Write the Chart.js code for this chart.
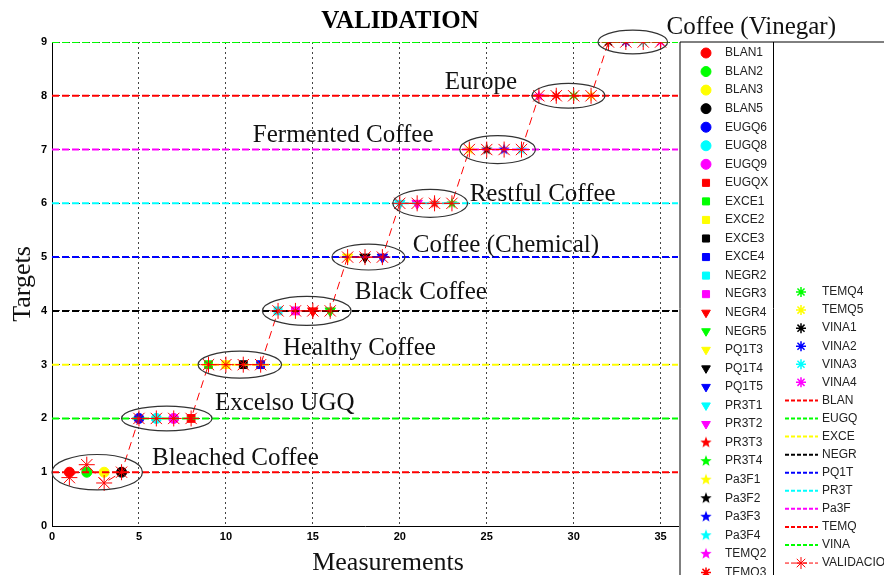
<!DOCTYPE html>
<html>
<head>
<meta charset="utf-8">
<script src="https://cdn.jsdelivr.net/npm/chart.js@4.4.1/dist/chart.umd.min.js"></script>
<style>
  html, body { margin: 0; padding: 0; background: #fff; }
</style>
</head>
<body>
<canvas id="myChart" width="884" height="575"></canvas>
<script>
// sample names, one point per measurement (x = 1..35)
const samples = [
  "BLAN1", "BLAN2", "BLAN3", "BLAN5",
  "EUGQ6", "EUGQ8", "EUGQ9", "EUGQX",
  "EXCE1", "EXCE2", "EXCE3", "EXCE4",
  "NEGR2", "NEGR3", "NEGR4", "NEGR5",
  "PQ1T3", "PQ1T4", "PQ1T5",
  "PR3T1", "PR3T2", "PR3T3", "PR3T4",
  "Pa3F1", "Pa3F2", "Pa3F3", "Pa3F4",
  "TEMQ2", "TEMQ3", "TEMQ4", "TEMQ5",
  "VINA1", "VINA2", "VINA3", "VINA4",
];
const targets = [1, 1, 1, 1, 2, 2, 2, 2, 3, 3, 3, 3, 4, 4, 4, 4, 5, 5, 5,
  6, 6, 6, 6, 7, 7, 7, 7, 8, 8, 8, 8, 9, 9, 9, 9];
const validation = [0.9, 1.14, 0.8, 1.0, 2, 2, 2, 2, 3, 3, 3, 3, 4, 4, 4, 4, 5, 5, 5,
  6, 6, 6, 6, 7, 7, 7, 7, 8, 8, 8, 8, 9, 9, 9, 9];

// class reference lines
const classes = ["BLAN", "EUGQ", "EXCE", "NEGR", "PQ1T", "PR3T", "Pa3F", "TEMQ", "VINA"];
const classTargets = [1, 2, 3, 4, 5, 6, 7, 8, 9];
const classLabels = ["Bleached Coffee", "Excelso UGQ", "Healthy Coffee", "Black Coffee",
  "Coffee (Chemical)", "Restful Coffee", "Fermented Coffee", "Europe", "Coffee (Vinegar)"];

const xTicks = [0, 5, 10, 15, 20, 25, 30, 35];
const yTicks = [0, 1, 2, 3, 4, 5, 6, 7, 8, 9];

// matlab-ish colour / marker cycle
const palette = ["#ff0000", "#00ff00", "#ffff00", "#000000", "#0000ff", "#00ffff", "#ff00ff"];
const lineColors = ["#ff0000", "#00ff00", "#ffff00", "#000000", "#0000ff", "#00ffff", "#ff00ff", "#ff0000", "#00ff00"];

// ellipses round each cluster: [from x, to x, half height] in axis units
const ellipses = [
  [0.0, 5.2, 0.33], [4.0, 9.2, 0.23], [8.4, 13.2, 0.25], [12.1, 17.2, 0.27],
  [16.1, 20.3, 0.24], [19.6, 23.9, 0.26], [23.45, 27.8, 0.26], [27.6, 31.8, 0.23],
  [31.4, 35.4, 0.22],
];
// where each label text starts (axis units)
const labelPos = [
  [5.75, 1.26], [9.37, 2.27], [13.28, 3.31], [17.41, 4.35], [20.75, 5.22],
  [24.02, 6.17], [11.55, 7.27], [22.59, 8.25], [35.34, 9.28],
];

function pentagram(color, r) {
  const c = document.createElement("canvas");
  c.width = c.height = Math.ceil(r * 2 + 2);
  const g = c.getContext("2d");
  const m = c.width / 2;
  g.beginPath();
  for (let k = 0; k < 10; k++) {
    const rr = k % 2 ? r * 0.42 : r;
    const a = -Math.PI / 2 + (k * Math.PI) / 5;
    g.lineTo(m + rr * Math.cos(a), m + rr * Math.sin(a));
  }
  g.closePath();
  g.fillStyle = color;
  g.fill();
  return c;
}

function markerFor(i) {
  const color = palette[i % 7];
  const kind = Math.floor(i / 7);
  if (kind === 0) return { pointStyle: "circle", radius: 5, rotation: 0, bw: 1 };
  if (kind === 1) return { pointStyle: "rect", radius: 5.5, rotation: 0, bw: 1 };
  if (kind === 2) return { pointStyle: "triangle", radius: 6, rotation: 180, bw: 1 };
  if (kind === 3) return { pointStyle: pentagram(color, 6), radius: 6, rotation: 0, bw: 1 };
  return { pointStyle: "star", radius: 5, rotation: 0, bw: 1.5 };
}

const datasets = [];
samples.forEach((name, i) => {
  const m = markerFor(i);
  datasets.push({
    label: name,
    data: [{ x: i + 1, y: targets[i] }],
    showLine: false,
    pointStyle: m.pointStyle,
    pointRadius: m.radius,
    rotation: m.rotation,
    pointBackgroundColor: palette[i % 7],
    pointBorderColor: palette[i % 7],
    pointBorderWidth: m.bw,
    order: 3,
  });
});
classes.forEach((name, k) => {
  datasets.push({
    label: name,
    data: [{ x: 0, y: classTargets[k] }, { x: 36, y: classTargets[k] }],
    showLine: true,
    borderColor: lineColors[k],
    borderWidth: 2,
    borderDash: [7, 3],
    pointRadius: 0,
    order: 2,
  });
});
datasets.push({
  label: "VALIDACIO",
  data: validation.map((v, i) => ({ x: i + 1, y: v })),
  showLine: true,
  borderColor: "#ff0000",
  borderWidth: 1,
  borderDash: [8, 5],
  pointStyle: "star",
  pointRadius: 8,
  pointBorderColor: "#ff0000",
  pointBorderWidth: 1,
  order: 1,
});

const serif = '"Liberation Serif", "Times New Roman", serif';
const sans = '"Liberation Sans", Arial, sans-serif';

const decor = {
  id: "decor",
  afterDatasetsDraw(chart) {
    const { ctx, scales: { x, y } } = chart;
    ctx.save();
    ctx.strokeStyle = "#333";
    ctx.lineWidth = 1.2;
    ellipses.forEach((e, k) => {
      const x0 = x.getPixelForValue(e[0]);
      const x1 = x.getPixelForValue(e[1]);
      const cy = y.getPixelForValue(classTargets[k]);
      const ry = Math.abs(y.getPixelForValue(classTargets[k] + e[2]) - cy);
      ctx.beginPath();
      ctx.ellipse((x0 + x1) / 2, cy, (x1 - x0) / 2, ry, 0, 0, Math.PI * 2);
      ctx.stroke();
    });
    ctx.restore();
  },
  afterDraw(chart) {
    const { ctx, scales: { x, y }, chartArea } = chart;
    ctx.save();
    // cluster labels
    ctx.fillStyle = "#111";
    ctx.font = "25px " + serif;
    ctx.textAlign = "left";
    ctx.textBaseline = "middle";
    classLabels.forEach((t, k) => {
      ctx.fillText(t, x.getPixelForValue(labelPos[k][0]), y.getPixelForValue(labelPos[k][1]));
    });
    // title and x axis name
    ctx.font = "bold 25px " + serif;
    ctx.textAlign = "center";
    ctx.fillStyle = "#000";
    ctx.fillText("VALIDATION", 400, 22);
    ctx.font = "26px " + serif;
    ctx.fillStyle = "#111";
    ctx.fillText("Measurements", 388, 563);

    // legend
    const ds = chart.data.datasets;
    const left = chartArea.right + 2;
    ctx.strokeStyle = "#000";
    ctx.lineWidth = 1;
    ctx.beginPath();
    ctx.moveTo(left, chartArea.top);
    ctx.lineTo(884, chartArea.top);
    ctx.moveTo(left, chartArea.top);
    ctx.lineTo(left, 575);
    ctx.moveTo(773.5, chartArea.top);
    ctx.lineTo(773.5, 575);
    ctx.stroke();

    ctx.font = "12px " + sans;
    ctx.textAlign = "left";
    ctx.textBaseline = "middle";
    const col1 = 29;
    ds.forEach((d, i) => {
      let mx, tx, yy;
      if (i < col1) {
        mx = 706; tx = 725; yy = 53 + i * 18.55;
      } else {
        mx = 801; tx = 822; yy = 292 + (i - col1) * 18.07;
      }
      if (d.showLine) {
        ctx.save();
        ctx.strokeStyle = d.borderColor;
        ctx.lineWidth = d.label === "VALIDACIO" ? 1 : 2;
        ctx.setLineDash([4, 2]);
        ctx.beginPath();
        ctx.moveTo(785, yy);
        ctx.lineTo(818, yy);
        ctx.stroke();
        ctx.restore();
      }
      if (d.pointRadius > 0) {
        ctx.save();
        ctx.fillStyle = d.pointBackgroundColor || d.pointBorderColor;
        ctx.strokeStyle = d.pointBorderColor;
        ctx.lineWidth = d.pointBorderWidth;
        Chart.helpers.drawPoint(ctx, {
          pointStyle: d.pointStyle,
          radius: d.label === "VALIDACIO" ? 6 : Math.min(d.pointRadius, 5),
          rotation: d.rotation || 0,
          borderWidth: d.pointBorderWidth,
        }, mx, yy);
        ctx.restore();
      }
      ctx.fillStyle = "#222";
      ctx.fillText(d.label, tx, yy);
    });
    ctx.restore();
  },
};

const chart = new Chart(document.getElementById("myChart"), {
  type: "scatter",
  data: { datasets: datasets },
  options: {
    responsive: false,
    animation: false,
    devicePixelRatio: 1,
    layout: { padding: { left: 0, right: 206, top: 42, bottom: 0 } },
    plugins: {
      legend: { display: false },
      tooltip: { enabled: false },
      title: { display: false },
    },
    scales: {
      x: {
        type: "linear",
        min: 0,
        max: 36,
        afterFit: (s) => { s.height = 49; },
        afterBuildTicks: (s) => { s.ticks = xTicks.map((v) => ({ value: v })); },
        ticks: { color: "#000", font: { family: sans, size: 11, weight: "bold" }, padding: 4, maxRotation: 0, autoSkip: false },
        grid: {
          drawTicks: false,
          color: (c) => (c.tick && c.tick.value > 0 ? "#444" : "rgba(0,0,0,0)"),
          lineWidth: 1,
        },
        border: { display: true, color: "#000", width: 1, dash: [2, 3] },
        title: { display: false },
      },
      y: {
        type: "linear",
        min: 0,
        max: 9,
        afterFit: (s) => { s.width = 52; },
        afterBuildTicks: (s) => { s.ticks = yTicks.map((v) => ({ value: v })); },
        ticks: { color: "#000", font: { family: sans, size: 11, weight: "bold" }, padding: 5 },
        grid: {
          drawTicks: false,
          color: (c) => (c.tick && c.tick.value > 0 ? "#444" : "rgba(0,0,0,0)"),
          lineWidth: 1,
        },
        border: { display: true, color: "#000", width: 1, dash: [2, 3] },
        title: { display: true, text: "Targets", color: "#111", font: { family: serif, size: 26 }, padding: { top: 8, bottom: 0 } },
      },
    },
  },
  plugins: [decor],
});
</script>
</body>
</html>
